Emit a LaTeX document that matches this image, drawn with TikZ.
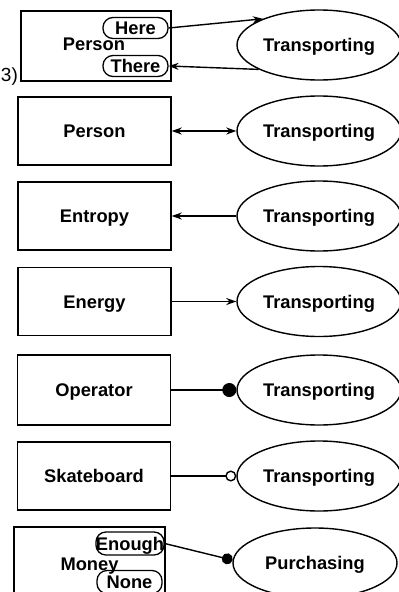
\documentclass[tikz,border=0pt]{standalone}
\usepackage{fontspec}
\setmainfont{Liberation Sans}
\usetikzlibrary{arrows.meta,shapes.geometric}
\begin{document}
\begin{tikzpicture}[x=1pt,y=-1pt,
  every node/.style={font=\fontsize{18.3}{21}\selectfont\bfseries, inner sep=0pt,
    text height=13.2pt, text depth=0pt},
  thing/.style={draw, line width=1.4pt, minimum width=153pt, minimum height=68pt},
  proc/.style={draw, ellipse, line width=1.4pt, minimum width=164pt, minimum height=70pt},
  pill/.style={draw, line width=1.3pt, rounded corners=10pt, minimum width=65pt, minimum height=21pt},
  link/.style={line width=1.4pt},
  >={Stealth[length=10pt,width=7pt]}
]
\useasboundingbox (0,0) rectangle (399,592);

% (3) a person carried between two places
\node[font=\fontsize{19}{22}\selectfont, anchor=base west, text height=, text depth=] (lbl) at (0.8,81) {3)};
\node[thing, minimum width=150pt, minimum height=70pt] (b1) at (96,46) {};
\node (p1) at (94,44) {Person};
\node[pill] (here) at (135.5,28) {Here};
\node[pill] (there) at (135.5,66) {There};
\node[proc] (t1) at (319,45) {Transporting};
\draw[link,->] (here.east) -- (t1.155);
\draw[link,->] (t1.202) -- (there.east);

% two-way link
\node[thing] (b2) at (94.5,131) {Person};
\node[proc] (t2) at (319,131) {Transporting};
\draw[link,<->] (b2.east) -- (t2.west);

% output
\node[thing] (b3) at (94.5,216) {Entropy};
\node[proc] (t3) at (319,216) {Transporting};
\draw[link,->] (t3.west) -- (b3.east);

% input
\node[thing] (b4) at (94.5,301.5) {Energy};
\node[proc] (t4) at (319,301.5) {Transporting};
\draw[link,->] (b4.east) -- (t4.west);

% agent
\node[thing, minimum height=70pt] (b5) at (94,390) {Operator};
\node[proc] (t5) at (319,390) {Transporting};
\draw[link,-{Circle[length=14pt]}] (b5.east) -- (t5.west);

% instrument
\node[thing] (b6) at (94,476) {Skateboard};
\node[proc] (t6) at (319,476) {Transporting};
\draw[link,-{Circle[open,length=11pt]}] (b6.east) -- (t6.west);

% condition on a state
\node[thing, minimum width=151pt, minimum height=74pt] (b7) at (89.5,564) {Money};
\node[pill, minimum width=66pt, minimum height=23pt] (enough) at (130,543.5) {Enough};
\node[pill, minimum height=23pt] (none) at (129.5,582) {None};
\node[proc] (pur) at (315,563) {Purchasing};
\draw[link,-{Circle[length=11pt]}] (enough.east) -- (pur.178);
\end{tikzpicture}
\end{document}
